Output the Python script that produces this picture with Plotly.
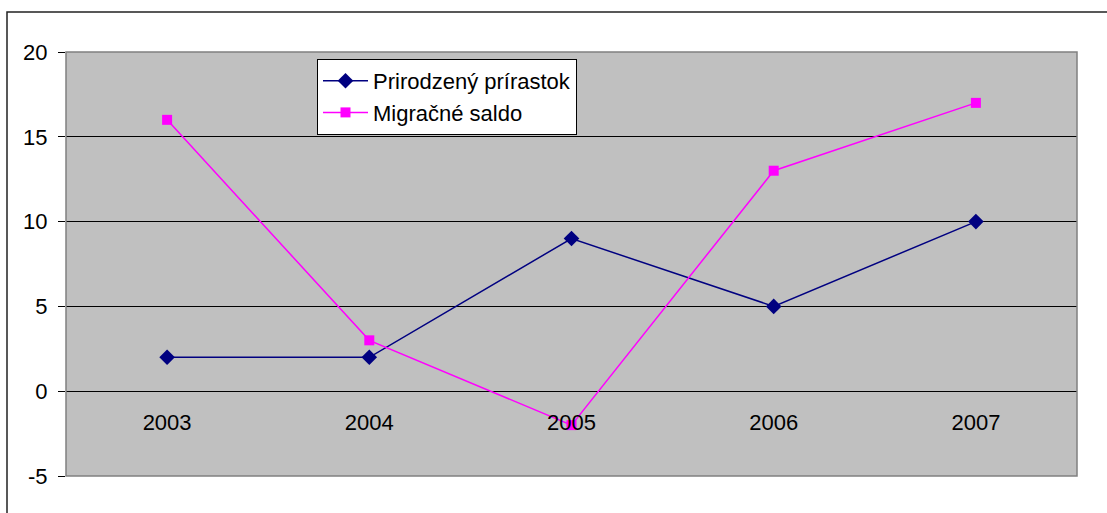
import plotly.graph_objects as go

years = ["2003", "2004", "2005", "2006", "2007"]
prirodzeny = [2, 2, 9, 5, 10]
migracne = [16, 3, -2, 13, 17]
y_ticks = [-5, 0, 5, 10, 15, 20]
y_tick_text = ["-5", "0", "5", "10", "15", "20"]

W, H = 1107, 513
L, R, T, B = 66, 30, 52, 37
pw = W - L - R
ph = H - T - B

fig = go.Figure()
fig.add_trace(go.Scatter(
    x=years, y=prirodzeny, name="Prirodzený prírastok", mode="lines+markers",
    line=dict(color="#000080", width=1.5),
    marker=dict(symbol="diamond", size=12, color="#000080"),
))
fig.add_trace(go.Scatter(
    x=years, y=migracne, name="Migračné saldo", mode="lines+markers",
    line=dict(color="#FF00FF", width=1.5),
    marker=dict(symbol="square", size=10, color="#FF00FF"),
))

font = "Liberation Sans, Arial, sans-serif"

fig.update_layout(
    width=W, height=H,
    margin=dict(l=L, r=R, t=T, b=B),
    paper_bgcolor="white",
    plot_bgcolor="#C0C0C0",
    font=dict(family=font, size=22, color="black"),
    showlegend=True,
    legend=dict(
        x=(317 - L) / pw, y=1 - (59 - T) / ph, xanchor="left", yanchor="top",
        bgcolor="white", bordercolor="black", borderwidth=1,
        font=dict(size=22, family=font), tracegroupgap=0, itemwidth=45,
    ),
    xaxis=dict(
        type="category", range=[-0.5, 4.5],
        anchor="free", position=5 / 25,
        showgrid=False, showline=False, zeroline=False, ticks="",
        ticklabelstandoff=16,
        tickfont=dict(size=22, family=font),
    ),
    yaxis=dict(
        range=[-5, 20], tickvals=y_ticks, ticktext=y_tick_text,
        showgrid=True, gridcolor="black", gridwidth=1,
        zeroline=True, zerolinecolor="black", zerolinewidth=1,
        ticks="outside", ticklen=7, tickcolor="black",
        ticklabelstandoff=6,
        tickfont=dict(size=22, family=font),
    ),
    shapes=[
        dict(type="rect", xref="paper", yref="paper", x0=0, x1=1, y0=0, y1=1,
             line=dict(color="#808080", width=1.5), fillcolor="rgba(0,0,0,0)", layer="above"),
        dict(type="rect", xref="paper", yref="paper",
             x0=(7 - L) / pw, x1=(W + 10 - L) / pw,
             y0=-(B + 10) / ph, y1=1 + (T - 12) / ph,
             line=dict(color="#222222", width=1.5), fillcolor="rgba(0,0,0,0)"),
    ],
)

fig.write_html(
    "out.html",
    config={"displayModeBar": False},
    post_script="document.body.style.margin='0';document.body.style.overflow='hidden';",
)
